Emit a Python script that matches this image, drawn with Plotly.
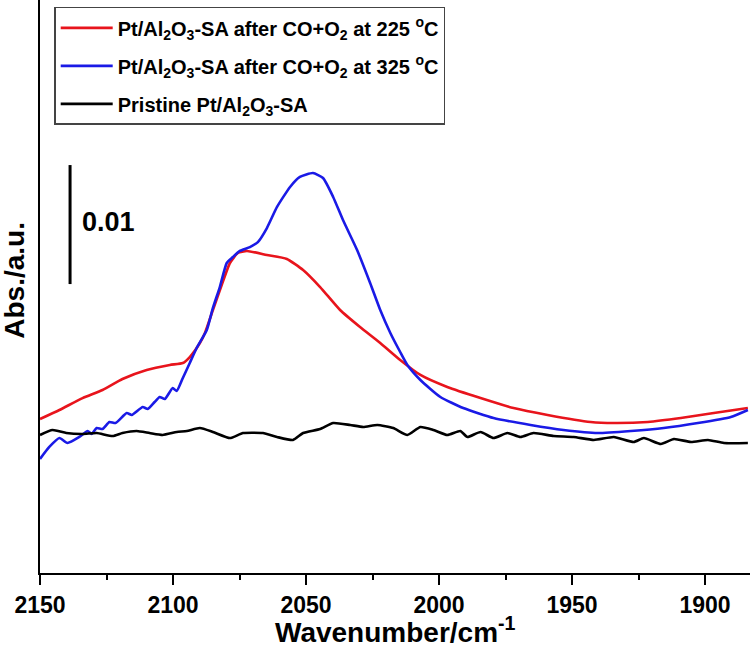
import plotly.graph_objects as go

# ---- data ----
wn_red = [2150.0, 2142.7, 2134.0, 2126.5, 2119.0, 2109.9, 2101.2, 2096.3, 2093.7, 2089.9,
          2088.0, 2085.0, 2081.7, 2078.6, 2075.6, 2072.2, 2064.7, 2057.2, 2051.1, 2044.7,
          2037.2, 2029.7, 2022.1, 2014.6, 2007.0, 1996.9, 1984.4, 1972.0, 1959.2, 1943.0,
          1934.3, 1921.5, 1909.1, 1896.7, 1883.9]
abs_red = [0.01479, 0.01555, 0.01655, 0.01723, 0.01815, 0.01891, 0.01933, 0.01950, 0.02000, 0.02118,
           0.02202, 0.02395, 0.02605, 0.02790, 0.02874, 0.02891, 0.02857, 0.02824, 0.02731, 0.02588,
           0.02395, 0.02252, 0.02118, 0.01975, 0.01849, 0.01748, 0.01655, 0.01571, 0.01513, 0.01454,
           0.01445, 0.01454, 0.01487, 0.01529, 0.01571]

wn_blue = [2150.0, 2146.5, 2142.7, 2139.7, 2135.2, 2132.1, 2130.6, 2128.7, 2126.5, 2123.9,
           2121.6, 2117.4, 2115.5, 2111.4, 2109.5, 2106.9, 2105.0, 2103.1, 2100.1, 2098.6,
           2096.3, 2093.7, 2091.1, 2087.3, 2085.0, 2082.4, 2079.8, 2077.5, 2074.9, 2071.1,
           2068.1, 2064.7, 2060.9, 2056.0, 2052.3, 2047.4, 2043.6, 2039.8, 2036.1, 2030.8,
           2025.9, 2022.1, 2018.3, 2014.6, 2011.9, 2007.0, 1999.5, 1990.9, 1979.5, 1965.6,
           1953.2, 1940.3, 1927.9, 1915.5, 1902.7, 1890.3, 1883.9]
abs_blue = [0.01143, 0.01244, 0.01319, 0.01277, 0.01328, 0.01378, 0.01353, 0.01403, 0.01395, 0.01454,
            0.01445, 0.01529, 0.01513, 0.01580, 0.01563, 0.01622, 0.01664, 0.01647, 0.01739, 0.01714,
            0.01824, 0.01950, 0.02076, 0.02227, 0.02412, 0.02588, 0.02790, 0.02840, 0.02891, 0.02924,
            0.02966, 0.03084, 0.03261, 0.03429, 0.03513, 0.03546, 0.03504, 0.03345, 0.03151, 0.02899,
            0.02622, 0.02395, 0.02202, 0.02042, 0.01933, 0.01807, 0.01664, 0.01571, 0.01487, 0.01429,
            0.01387, 0.01361, 0.01378, 0.01403, 0.01445, 0.01496, 0.01555]

wn_black = [2150.0, 2145.3, 2140.1, 2134.0, 2128.7, 2122.7, 2119.0, 2113.7, 2108.8, 2103.9,
            2098.6, 2094.8, 2089.9, 2085.0, 2078.6, 2073.7, 2066.2, 2060.9, 2054.9, 2051.1,
            2044.7, 2039.8, 2033.4, 2028.5, 2023.2, 2017.2, 2011.9, 2007.0, 2002.1, 1996.9,
            1992.0, 1989.3, 1984.4, 1979.5, 1974.3, 1969.4, 1964.5, 1956.9, 1949.4, 1941.8,
            1934.3, 1926.8, 1923.0, 1916.6, 1911.7, 1905.3, 1898.9, 1892.9, 1883.9]
abs_black = [0.01345, 0.01387, 0.01361, 0.01353, 0.01361, 0.01336, 0.01361, 0.01378, 0.01361, 0.01345,
             0.01370, 0.01378, 0.01403, 0.01370, 0.01319, 0.01361, 0.01361, 0.01328, 0.01303, 0.01361,
             0.01395, 0.01445, 0.01429, 0.01412, 0.01429, 0.01403, 0.01345, 0.01412, 0.01387, 0.01345,
             0.01378, 0.01328, 0.01370, 0.01319, 0.01361, 0.01328, 0.01361, 0.01336, 0.01328, 0.01303,
             0.01328, 0.01286, 0.01319, 0.01269, 0.01311, 0.01286, 0.01303, 0.01277, 0.01277]

series_names = [
    "Pt/Al<sub>2</sub>O<sub>3</sub>-SA after CO+O<sub>2</sub> at 225 <sup>o</sup>C",
    "Pt/Al<sub>2</sub>O<sub>3</sub>-SA after CO+O<sub>2</sub> at 325 <sup>o</sup>C",
    "Pristine Pt/Al<sub>2</sub>O<sub>3</sub>-SA",
]
x_ticks = [2150, 2100, 2050, 2000, 1950, 1900]
x_range = [2150, 1883.1]
y_range = [0.00185, 0.05]
scale_bar_value = 0.01
scale_bar_x = 2138.7
scale_bar_y0 = 0.02613

FONT = "Liberation Sans, Arial, sans-serif"

fig = go.Figure()
for wn, ab, name, col, grp in [
    (wn_red, abs_red, series_names[0], "#e8141c", "a"),
    (wn_blue, abs_blue, series_names[1], "#1a1ae6", "b"),
    (wn_black, abs_black, series_names[2], "#000000", "c"),
]:
    fig.add_trace(go.Scatter(
        x=wn, y=ab, mode="lines", name=name, legendgroup=grp,
        line=dict(color=col, width=2.6, shape="spline", smoothing=0.5),
    ))

# scale bar
fig.add_shape(type="line", xref="x", yref="y",
              x0=scale_bar_x, x1=scale_bar_x,
              y0=scale_bar_y0, y1=scale_bar_y0 + scale_bar_value,
              line=dict(color="black", width=3))
fig.add_annotation(x=scale_bar_x, y=scale_bar_y0 + 0.5 * scale_bar_value + 0.0002,
                   xref="x", yref="y", xanchor="left", xshift=10,
                   text="0.01", showarrow=False,
                   font=dict(family=FONT, size=27, color="black", weight="bold"))

# axis titles
fig.add_annotation(x=0, y=0.51, xref="paper", yref="paper", xshift=-25,
                   text="Abs./a.u.", textangle=-90, showarrow=False,
                   xanchor="center", yanchor="middle",
                   font=dict(family=FONT, size=28, color="black", weight="bold"))
fig.add_annotation(x=0.5, y=0, xref="paper", yref="paper", yshift=-57,
                   text="Wavenumber/cm<sup>-1</sup>", showarrow=False,
                   xanchor="center", yanchor="middle",
                   font=dict(family=FONT, size=28, color="black", weight="bold"))

fig.update_layout(
    width=750, height=648,
    margin=dict(l=40, r=0, t=0, b=75),
    paper_bgcolor="white", plot_bgcolor="white",
    showlegend=True,
    legend=dict(
        x=0.02, y=0.988, xanchor="left", yanchor="top",
        bgcolor="white", bordercolor="#444", borderwidth=1.5,
        font=dict(family=FONT, size=20, color="black", weight="bold"),
        traceorder="grouped", tracegroupgap=9, itemwidth=52,
    ),
    xaxis=dict(
        range=x_range, tickmode="array", tickvals=x_ticks,
        showline=True, linecolor="black", linewidth=2,
        ticks="outside", ticklen=10, tickwidth=2, tickcolor="black",
        minor=dict(dtick=25, tick0=2150, ticks="outside", ticklen=5, tickwidth=2, tickcolor="black"),
        showgrid=False, zeroline=False,
        tickfont=dict(family=FONT, size=23, color="black", weight="bold"),
    ),
    yaxis=dict(
        range=y_range, showline=True, linecolor="black", linewidth=2,
        showticklabels=False, ticks="", showgrid=False, zeroline=False,
    ),
)

fig.write_html(
    "out.html",
    config={"displayModeBar": False},
    post_script="document.body.style.margin='0';document.body.style.overflow='hidden';",
)
